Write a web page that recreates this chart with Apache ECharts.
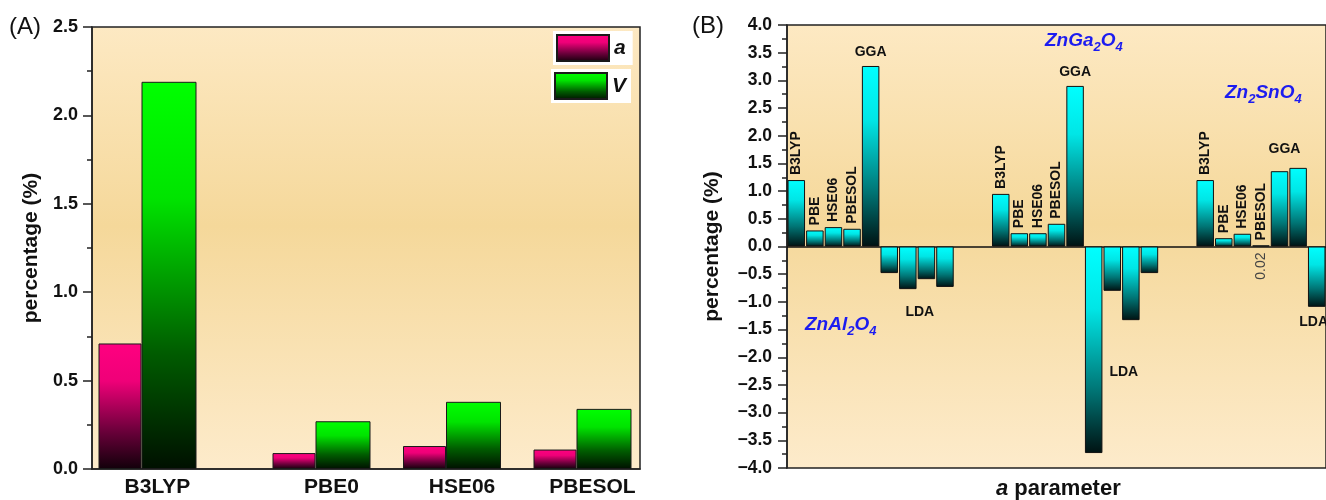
<!DOCTYPE html>
<html>
<head>
<meta charset="utf-8">
<script src="https://cdn.jsdelivr.net/npm/echarts@6/dist/echarts.min.js"></script>
<style>html,body{margin:0;padding:0;background:#fff}#c{width:1326px;height:500px}</style>
</head>
<body>
<div id="c"></div>
<script>
// ---------- Panel (A) data ----------
const slotsA = ['B3LYP', '', '', '', 'PBE0', '', '', 'HSE06', '', '', 'PBESOL'];
const aValues = [0.71, 0.09, 0.13, 0.11];
const vValues = [2.19, 0.27, 0.38, 0.34];

// ---------- Panel (B) data ----------
const categoriesB = [
  'B3LYP', 'PBE', 'HSE06', 'PBESOL', 'GGA', 'LDA', 'LDA', 'LDA', 'LDA',
  '', '',
  'B3LYP', 'PBE', 'HSE06', 'PBESOL', 'GGA', 'LDA', 'LDA', 'LDA', 'LDA',
  '', '',
  'B3LYP', 'PBE', 'HSE06', 'PBESOL', 'GGA', 'GGA', 'LDA'
];
const valuesB = [
  1.20, 0.29, 0.35, 0.32, 3.26, -0.48, -0.77, -0.59, -0.73,
  null, null,
  0.95, 0.24, 0.24, 0.41, 2.90, -3.73, -0.80, -1.33, -0.48,
  null, null,
  1.20, 0.15, 0.23, 0.02, 1.36, 1.42, -1.09
];
const compounds = ['ZnAl2O4', 'ZnGa2O4', 'Zn2SnO4'];

// ---------- styles ----------
const FONT = '"Liberation Sans", Arial, sans-serif';
const axisColor = '#222';
const bg = {type: 'linear', x: 0, y: 0, x2: 0, y2: 1, colorStops: [
  {offset: 0, color: '#fde9c3'}, {offset: 0.45, color: '#f5d89a'}, {offset: 1, color: '#fdebcb'}]};
const pinkGrad = {type: 'linear', x: 0, y: 0, x2: 0, y2: 1, colorStops: [
  {offset: 0, color: '#ff0080'}, {offset: 0.3, color: '#ef0078'}, {offset: 0.7, color: '#6a003a'}, {offset: 1, color: '#12000a'}]};
const greenGrad = {type: 'linear', x: 0, y: 0, x2: 0, y2: 1, colorStops: [
  {offset: 0, color: '#00ff00'}, {offset: 0.3, color: '#00e400'}, {offset: 0.7, color: '#005c00'}, {offset: 1, color: '#001000'}]};
const cyanGrad = {type: 'linear', x: 0, y: 0, x2: 0, y2: 1, colorStops: [
  {offset: 0, color: '#00ffff'}, {offset: 0.3, color: '#00e6e6'}, {offset: 0.7, color: '#007474'}, {offset: 1, color: '#001212'}]};

// ---------- build panel A ----------
const posA = [];
slotsA.forEach((n, i) => { if (n) posA.push(i); });
const dataA_a = posA.map((x, k) => [x, aValues[k]]);
const dataA_v = posA.map((x, k) => [x, vValues[k]]);
const unitA = 43.5, widthA = 548, firstA = 55.5;
const minA = -firstA / unitA, maxA = (widthA - firstA) / unitA;

// ---------- build panel B labels ----------
const rotNames = ['B3LYP', 'PBE', 'HSE06', 'PBESOL'];
const ldaOffsets = {6: [12, 11], 18: [-7, 40], 28: [-3, 3]};
function labelFor(i) {
  const name = categoriesB[i];
  const base = {fontFamily: FONT, fontWeight: 'bold', fontSize: 14, color: '#111'};
  if (rotNames.includes(name)) {
    return Object.assign({show: true, position: 'top', distance: 5, rotate: 90, align: 'left', verticalAlign: 'middle', formatter: name}, base);
  }
  if (name === 'GGA' && categoriesB[i - 1] !== 'GGA') {
    const pair = categoriesB[i + 1] === 'GGA';
    return Object.assign({show: true, position: 'top', distance: 7, formatter: name, offset: pair ? [5, -8] : [0, 0]}, base);
  }
  if (name === 'LDA' && ldaOffsets[i]) {
    return Object.assign({show: true, position: 'bottom', distance: 5, formatter: name, offset: ldaOffsets[i]}, base);
  }
  return {show: false};
}
const dataB = valuesB.map((v, i) => v == null ? '-' : {value: v, label: labelFor(i)});
const dataTiny = valuesB.map(v => (v != null && Math.abs(v) < 0.05) ? v : '-');

function chem(s) { return s.replace(/(\d)/g, '{s|$1}'); }
const chemStyle = (txt, left, top) => ({
  type: 'text', left: left, top: top,
  style: {text: chem(txt), fontFamily: FONT, fontSize: 19, fontWeight: 'bold', fontStyle: 'italic', fill: '#1c1cf0', lineHeight: 26,
    rich: {s: {fontFamily: FONT, fontSize: 13, fontWeight: 'bold', fontStyle: 'italic', fill: '#1c1cf0', lineHeight: 14, verticalAlign: 'bottom'}}}
});

const chart = echarts.init(document.getElementById('c'), null, {renderer: 'canvas', width: 1326, height: 500});
const option = {
  animation: false,
  backgroundColor: '#fff',
  grid: [
    {left: 92, top: 27, width: 548, height: 442, show: true, backgroundColor: bg, borderColor: axisColor, borderWidth: 1.5},
    {left: 787, top: 25, width: 547, height: 443, show: true, backgroundColor: bg, borderColor: axisColor, borderWidth: 1.5}
  ],
  legend: [
    {data: ['a'], left: 553, top: 31, orient: 'vertical', icon: 'rect', itemWidth: 52, itemHeight: 26, backgroundColor: '#fff', padding: [3, 7, 3, 3],
     textStyle: {fontFamily: FONT, fontSize: 21, fontWeight: 'bold', fontStyle: 'italic', color: '#111'}},
    {data: ['V'], left: 551, top: 69, orient: 'vertical', icon: 'rect', itemWidth: 52, itemHeight: 26, backgroundColor: '#fff', padding: [3, 5, 3, 3],
     textStyle: {fontFamily: FONT, fontSize: 21, fontWeight: 'bold', fontStyle: 'italic', color: '#111'}}
  ],
  xAxis: [
    {gridIndex: 0, type: 'value', min: minA, max: maxA,
     axisLine: {show: true, onZero: false, lineStyle: {color: axisColor, width: 1.5}},
     axisTick: {show: false}, splitLine: {show: false},
     axisLabel: {customValues: posA, formatter: v => slotsA[Math.round(v)], fontFamily: FONT, fontSize: 21, fontWeight: 'bold', color: '#111', margin: 8, padding: [0, 0, 0, 20]}},
    {gridIndex: 1, type: 'category', data: categoriesB,
     axisLine: {show: true, onZero: true, lineStyle: {color: '#111', width: 1.5}},
     axisTick: {show: false}, axisLabel: {show: false}, splitLine: {show: false}}
  ],
  yAxis: [
    {gridIndex: 0, type: 'value', min: 0, max: 2.5, interval: 0.5,
     name: 'percentage (%)', nameLocation: 'middle', nameGap: 50,
     nameTextStyle: {fontFamily: FONT, fontSize: 21, fontWeight: 'bold', color: '#111'},
     axisLine: {show: true, onZero: false, lineStyle: {color: axisColor, width: 1.5}},
     axisTick: {show: true, inside: false, length: 9, lineStyle: {color: axisColor, width: 1.5}},
     minorTick: {show: true, splitNumber: 2, length: 5, lineStyle: {color: axisColor, width: 1.5}},
     splitLine: {show: false}, minorSplitLine: {show: false},
     axisLabel: {formatter: v => v.toFixed(1), fontFamily: FONT, fontSize: 18, fontWeight: 'bold', color: '#111', margin: 14}},
    {gridIndex: 1, type: 'value', min: -4, max: 4, interval: 0.5,
     name: 'percentage (%)', nameLocation: 'middle', nameGap: 64,
     nameTextStyle: {fontFamily: FONT, fontSize: 21, fontWeight: 'bold', color: '#111'},
     axisLine: {show: true, onZero: false, lineStyle: {color: axisColor, width: 1.5}},
     axisTick: {show: true, inside: false, length: 9, lineStyle: {color: axisColor, width: 1.5}},
     minorTick: {show: true, splitNumber: 2, length: 5, lineStyle: {color: axisColor, width: 1.5}},
     splitLine: {show: false}, minorSplitLine: {show: false},
     axisLabel: {formatter: v => (v < 0 ? '\u2212' : '') + Math.abs(v).toFixed(1), fontFamily: FONT, fontSize: 17.5, fontWeight: 'bold', color: '#111', margin: 15}}
  ],
  series: [
    {name: 'a', type: 'bar', xAxisIndex: 0, yAxisIndex: 0, barWidth: 43, barGap: '0%', data: dataA_a,
     itemStyle: {color: pinkGrad, borderColor: '#1a1a1a', borderWidth: 1}},
    {name: 'V', type: 'bar', xAxisIndex: 0, yAxisIndex: 0, barWidth: 55, barGap: '0%', data: dataA_v,
     itemStyle: {color: greenGrad, borderColor: '#1a1a1a', borderWidth: 1}},
    {name: 'B', type: 'bar', xAxisIndex: 1, yAxisIndex: 1, barWidth: 17.5, barGap: '-100%', data: dataB,
     itemStyle: {color: cyanGrad, borderColor: '#111', borderWidth: 1}},
    {name: 'tiny', type: 'bar', xAxisIndex: 1, yAxisIndex: 1, barWidth: 17.5, barGap: '-100%', data: dataTiny, silent: true,
     itemStyle: {color: 'rgba(0,0,0,0)', borderWidth: 0},
     label: {show: true, position: 'bottom', distance: 6, rotate: 90, align: 'right', verticalAlign: 'middle',
       formatter: p => Number(p.value).toFixed(2), fontFamily: FONT, fontSize: 14, color: '#444'}}
  ],
  graphic: [
    {type: 'text', left: 9, top: 15, style: {text: '(A)', fontFamily: FONT, fontSize: 24, fill: '#111'}},
    {type: 'text', left: 692, top: 14, style: {text: '(B)', fontFamily: FONT, fontSize: 24, fill: '#111'}},
    chemStyle(compounds[0], 805, 312),
    chemStyle(compounds[1], 1045, 28),
    chemStyle(compounds[2], 1225, 80),
    {type: 'text', left: 996, top: 478, style: {text: '{i|a} parameter', fontFamily: FONT, fontSize: 22, fontWeight: 'bold', fill: '#111',
      rich: {i: {fontFamily: FONT, fontSize: 22, fontWeight: 'bold', fontStyle: 'italic', fill: '#111'}}}}
  ]
};
chart.setOption(option);
</script>
</body>
</html>
